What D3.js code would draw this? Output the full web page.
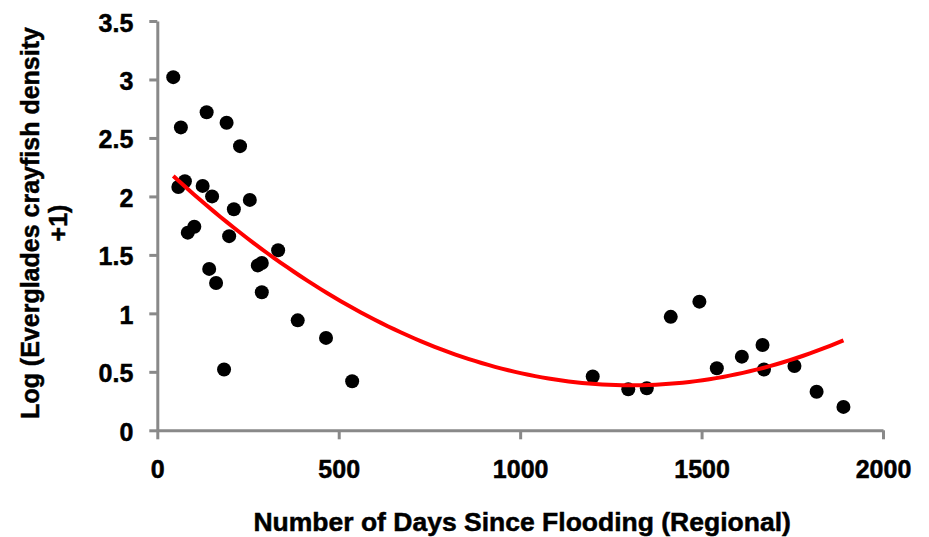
<!DOCTYPE html>
<html>
<head>
<meta charset="utf-8">
<script src="https://cdn.jsdelivr.net/npm/d3@7"></script>
<style>
  html, body { margin: 0; padding: 0; background: #fff; }
  svg { display: block; }
  text { font-family: "Liberation Sans", Arial, sans-serif; font-weight: bold; fill: #000; stroke: #000; stroke-width: 0.5px; }
</style>
</head>
<body>
<svg id="chart" width="929" height="537"></svg>
<script>
// Days since regional flooding for each sampled site
const daysSinceFlooding = [
  44, 65, 136, 191, 228, 58, 76, 125, 151, 211, 255, 84, 102, 198, 143, 162,
  277, 288, 333, 288, 387, 465, 184, 537,
  1200, 1298, 1349, 1415, 1494, 1542, 1611, 1668, 1672, 1756, 1817, 1891
];
// Log(Everglades crayfish density + 1) at each site
const logDensity = [
  3.02, 2.59, 2.72, 2.63, 2.43, 2.08, 2.13, 2.09, 2.00, 1.89, 1.97, 1.69, 1.74, 1.66, 1.38, 1.26,
  1.41, 1.43, 1.54, 1.18, 0.94, 0.79, 0.52, 0.42,
  0.46, 0.35, 0.36, 0.97, 1.10, 0.53, 0.63, 0.73, 0.52, 0.55, 0.33, 0.20
];
const xTicks = [0, 500, 1000, 1500, 2000];
const yTicks = [0, 0.5, 1, 1.5, 2, 2.5, 3, 3.5];

const svg = d3.select("#chart");
const plotLeft = 157.3, plotRight = 883, plotTop = 21, plotBottom = 430.3;

const x = d3.scaleLinear().domain([0, 2000]).range([plotLeft, plotRight]);
const y = d3.scaleLinear().domain([0, 3.5]).range([plotBottom, plotTop]);

const axisColor = "#898989";

// x axis
const gx = svg.append("g").attr("transform", `translate(0,${plotBottom})`)
  .call(d3.axisBottom(x).tickValues(xTicks).tickSize(9).tickSizeOuter(0).tickFormat(d3.format("d")));
gx.select(".domain").attr("stroke", axisColor).attr("stroke-width", 3);
gx.selectAll(".tick line").attr("stroke", axisColor).attr("stroke-width", 3);
gx.selectAll(".tick text").attr("y", 0).attr("dy", 47.5)
  .style("font-size", "25px").attr("fill", "#000");

// y axis
const gy = svg.append("g").attr("transform", `translate(${plotLeft},0)`)
  .call(d3.axisLeft(y).tickValues(yTicks).tickSize(8).tickSizeOuter(0).tickFormat(d => d));
gy.select(".domain").attr("stroke", axisColor).attr("stroke-width", 3);
gy.selectAll(".tick line").attr("stroke", axisColor).attr("stroke-width", 3);
gy.selectAll(".tick text").attr("x", -24).attr("dy", "0.4em")
  .style("font-size", "25px").attr("fill", "#000");
svg.selectAll(".tick text").attr("font-family", null).attr("font-size", null);

// second-order polynomial trend (least squares)
function polyFit2(xs, ys) {
  const s = [0, 0, 0, 0, 0], t = [0, 0, 0];
  xs.forEach((xv, i) => {
    let p = 1;
    for (let k = 0; k < 5; k++) { s[k] += p; if (k < 3) t[k] += p * ys[i]; p *= xv; }
  });
  const A = [[s[0], s[1], s[2], t[0]], [s[1], s[2], s[3], t[1]], [s[2], s[3], s[4], t[2]]];
  for (let i = 0; i < 3; i++) {
    for (let j = i + 1; j < 3; j++) {
      const f = A[j][i] / A[i][i];
      for (let k = i; k < 4; k++) A[j][k] -= f * A[i][k];
    }
  }
  const c = [0, 0, 0];
  for (let i = 2; i >= 0; i--) {
    let v = A[i][3];
    for (let k = i + 1; k < 3; k++) v -= A[i][k] * c[k];
    c[i] = v / A[i][i];
  }
  return c;
}
const coef = polyFit2(daysSinceFlooding, logDensity);
const xMin = d3.min(daysSinceFlooding), xMax = d3.max(daysSinceFlooding);
const trendPts = d3.range(0, 101).map(i => {
  const xv = xMin + (xMax - xMin) * i / 100;
  return [xv, coef[0] + coef[1] * xv + coef[2] * xv * xv];
});

// points
svg.append("g").selectAll("circle")
  .data(daysSinceFlooding.map((d, i) => [d, logDensity[i]]))
  .join("circle")
  .attr("cx", d => x(d[0]))
  .attr("cy", d => y(d[1]))
  .attr("r", 7)
  .attr("fill", "#000");

svg.append("path")
  .datum(trendPts)
  .attr("fill", "none")
  .attr("stroke", "#ff0000")
  .attr("stroke-width", 4)
  .attr("d", d3.line().x(d => x(d[0])).y(d => y(d[1])).curve(d3.curveMonotoneX));

// axis titles
svg.append("text")
  .attr("x", (plotLeft + plotRight) / 2 + 2)
  .attr("y", 531)
  .attr("text-anchor", "middle")
  .style("font-size", "26.5px")
  .text("Number of Days Since Flooding (Regional)");

const yTitle = svg.append("text")
  .attr("transform", `translate(39,223) rotate(-90)`)
  .attr("text-anchor", "middle")
  .style("font-size", "25px");
yTitle.append("tspan").attr("x", 0).attr("y", 0).text("Log (Everglades crayfish density");
yTitle.append("tspan").attr("x", 0).attr("y", 28).text("+1)");
</script>
</body>
</html>
